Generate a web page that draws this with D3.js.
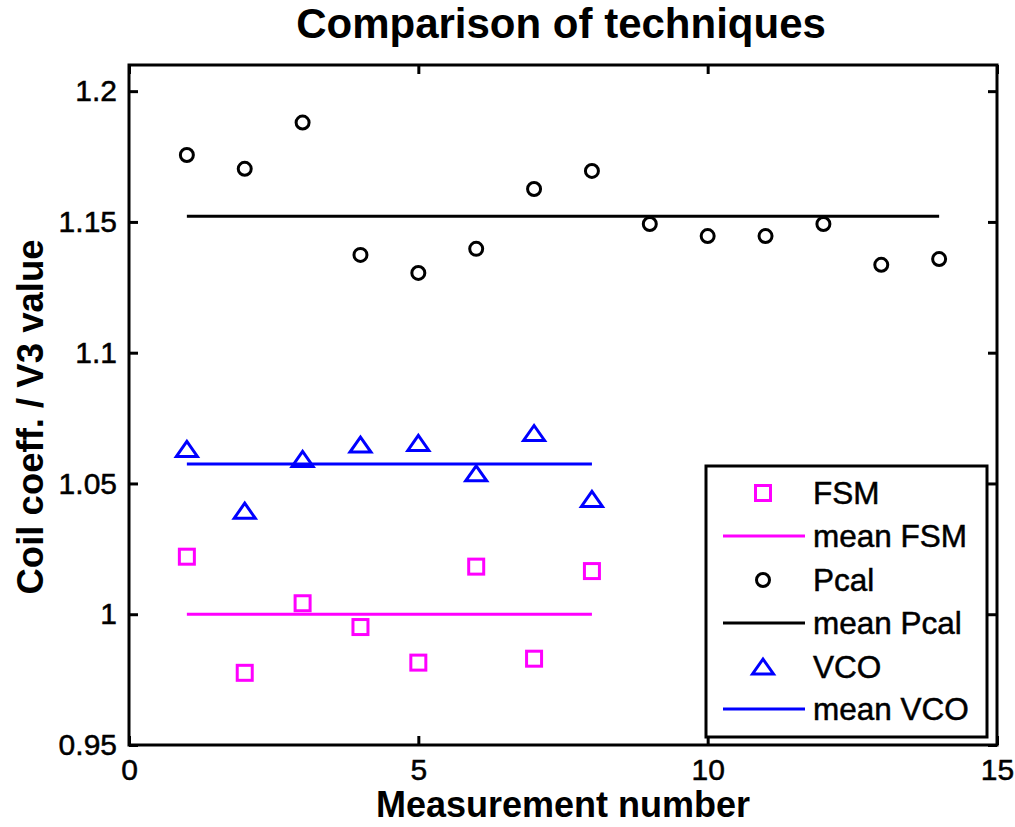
<!DOCTYPE html>
<html>
<head>
<meta charset="utf-8">
<script src="https://cdn.jsdelivr.net/npm/d3@7"></script>
<style>
  html, body { margin: 0; padding: 0; background: #fff; }
  svg { display: block; }
  text { font-family: "Liberation Sans", Arial, Helvetica, sans-serif; fill: #000; }
  .reg { stroke: #000; stroke-width: 0.5px; }
</style>
</head>
<body>
<svg id="chart" width="1015" height="827"></svg>
<script>
// ---- data ----
const fsmX = [1, 2, 3, 4, 5, 6, 7, 8];
const fsmY = [1.0220, 0.9776, 1.0042, 0.9951, 0.9815, 1.0182, 0.9830, 1.0165];
const fsmMean = 1.0000;

const pcalX = [1, 2, 3, 4, 5, 6, 7, 8, 9, 10, 11, 12, 13, 14];
const pcalY = [1.1756, 1.1703, 1.1880, 1.1374, 1.1305, 1.1397, 1.1626, 1.1695,
               1.1492, 1.1446, 1.1446, 1.1492, 1.1336, 1.1358];
const pcalMean = 1.1522;

const vcoX = [1, 2, 3, 4, 5, 6, 7, 8];
const vcoY = [1.0630, 1.0394, 1.0592, 1.0647, 1.0653, 1.0537, 1.0691, 1.0439];
const vcoMean = 1.0574;

const xTicks = [0, 5, 10, 15];
const yTicks = [0.95, 1, 1.05, 1.1, 1.15, 1.2];
const yTickLabels = ["0.95", "1", "1.05", "1.1", "1.15", "1.2"];

const legendLabels = ["FSM", "mean FSM", "Pcal", "mean Pcal", "VCO", "mean VCO"];

const titleText = "Comparison of techniques";
const xLabelText = "Measurement number";
const yLabelText = "Coil coeff. / V3 value";

// ---- layout ----
const L = 129, R = 997, T = 65, B = 745;
const svg = d3.select("#chart");

const x = d3.scaleLinear().domain([0, 15]).range([L, R]);
const y = d3.scaleLinear().domain([0.95, 1.21]).range([B, T]);

const MAG = "#ff00ff", BLK = "#000000", BLU = "#0000ff";

// axes box
const tickLen = 9;
const axB = d3.axisBottom(x).tickValues(xTicks).tickSize(-tickLen).tickPadding(14).tickFormat(d3.format("d"));
const axT = d3.axisTop(x).tickValues(xTicks).tickSize(-tickLen).tickFormat("");
const axL = d3.axisLeft(y).tickValues(yTicks).tickSize(-tickLen).tickPadding(12).tickFormat((d, i) => yTickLabels[i]);
const axR = d3.axisRight(y).tickValues(yTicks).tickSize(-tickLen).tickFormat("");

function styleAxis(g) {
  g.select(".domain").attr("stroke", "#000").attr("stroke-width", 3);
  g.selectAll(".tick line").attr("stroke", "#000").attr("stroke-width", 3);
  g.selectAll(".tick text").style("font-size", "30px").attr("fill", "#000").attr("class", "reg");
}
svg.append("g").attr("transform", `translate(0,${B})`).call(axB).call(styleAxis)
  .selectAll(".tick text").attr("dy", "0.71em");
svg.append("g").attr("transform", `translate(0,${T})`).call(axT).call(styleAxis);
svg.append("g").attr("transform", `translate(${L},0)`).call(axL).call(styleAxis);
svg.append("g").attr("transform", `translate(${R},0)`).call(axR).call(styleAxis);
svg.selectAll(".domain").attr("d", null);
svg.append("rect").attr("x", L).attr("y", T).attr("width", R - L).attr("height", B - T)
  .attr("fill", "none").attr("stroke", "#000").attr("stroke-width", 3);

// marker shapes
function square(g, cx, cy, color) {
  g.append("rect").attr("x", cx - 7.5).attr("y", cy - 7.5).attr("width", 15).attr("height", 15)
    .attr("fill", "none").attr("stroke", color).attr("stroke-width", 3);
}
function circle(g, cx, cy, color) {
  g.append("circle").attr("cx", cx).attr("cy", cy).attr("r", 6.5)
    .attr("fill", "none").attr("stroke", color).attr("stroke-width", 3);
}
function triangle(g, cx, cy, color) {
  g.append("path")
    .attr("d", `M${cx},${cy - 8} L${cx + 10.5},${cy + 7} L${cx - 10.5},${cy + 7} Z`)
    .attr("fill", "none").attr("stroke", color).attr("stroke-width", 3).attr("stroke-linejoin", "miter");
}

const plot = svg.append("g");

// mean lines
function meanLine(xs, m, color) {
  plot.append("line")
    .attr("x1", x(d3.min(xs))).attr("x2", x(d3.max(xs)))
    .attr("y1", y(m)).attr("y2", y(m))
    .attr("stroke", color).attr("stroke-width", 3);
}

fsmX.forEach((d, i) => square(plot, x(d), y(fsmY[i]), MAG));
meanLine(fsmX, fsmMean, MAG);
pcalX.forEach((d, i) => circle(plot, x(d), y(pcalY[i]), BLK));
meanLine(pcalX, pcalMean, BLK);
vcoX.forEach((d, i) => triangle(plot, x(d), y(vcoY[i]), BLU));
meanLine(vcoX, vcoMean, BLU);

// legend
const lg = svg.append("g");
const lgX = 706, lgY = 466, lgW = 281, lgH = 271;
lg.append("rect").attr("x", lgX).attr("y", lgY).attr("width", lgW).attr("height", lgH)
  .attr("fill", "#fff").attr("stroke", "#000").attr("stroke-width", 3);
const rowY = [493, 536, 580, 623, 667, 709];
const sampleX1 = 723, sampleX2 = 805, markX = 763, textX = 813;
const kinds = [["sq", MAG], ["ln", MAG], ["ci", BLK], ["ln", BLK], ["tr", BLU], ["ln", BLU]];
kinds.forEach(([k, c], i) => {
  const cy = rowY[i];
  if (k === "sq") square(lg, markX, cy, c);
  if (k === "ci") circle(lg, markX, cy, c);
  if (k === "tr") triangle(lg, markX, cy, c);
  if (k === "ln") lg.append("line").attr("x1", sampleX1).attr("x2", sampleX2)
    .attr("y1", cy).attr("y2", cy).attr("stroke", c).attr("stroke-width", 3);
  lg.append("text").attr("class", "reg").attr("x", textX).attr("y", cy).attr("dy", "0.36em")
    .style("font-size", "31.5px").text(legendLabels[i]);
});

// titles
svg.append("text").attr("x", 561).attr("y", 38).attr("text-anchor", "middle")
  .style("font-size", "42px").style("font-weight", "bold").text(titleText);
svg.append("text").attr("x", 563).attr("y", 817).attr("text-anchor", "middle")
  .style("font-size", "36px").style("font-weight", "bold").text(xLabelText);
svg.append("text").attr("transform", `translate(43,${(T + B) / 2 + 12}) rotate(-90)`)
  .attr("text-anchor", "middle")
  .style("font-size", "36.5px").style("font-weight", "bold").text(yLabelText);
</script>
</body>
</html>
